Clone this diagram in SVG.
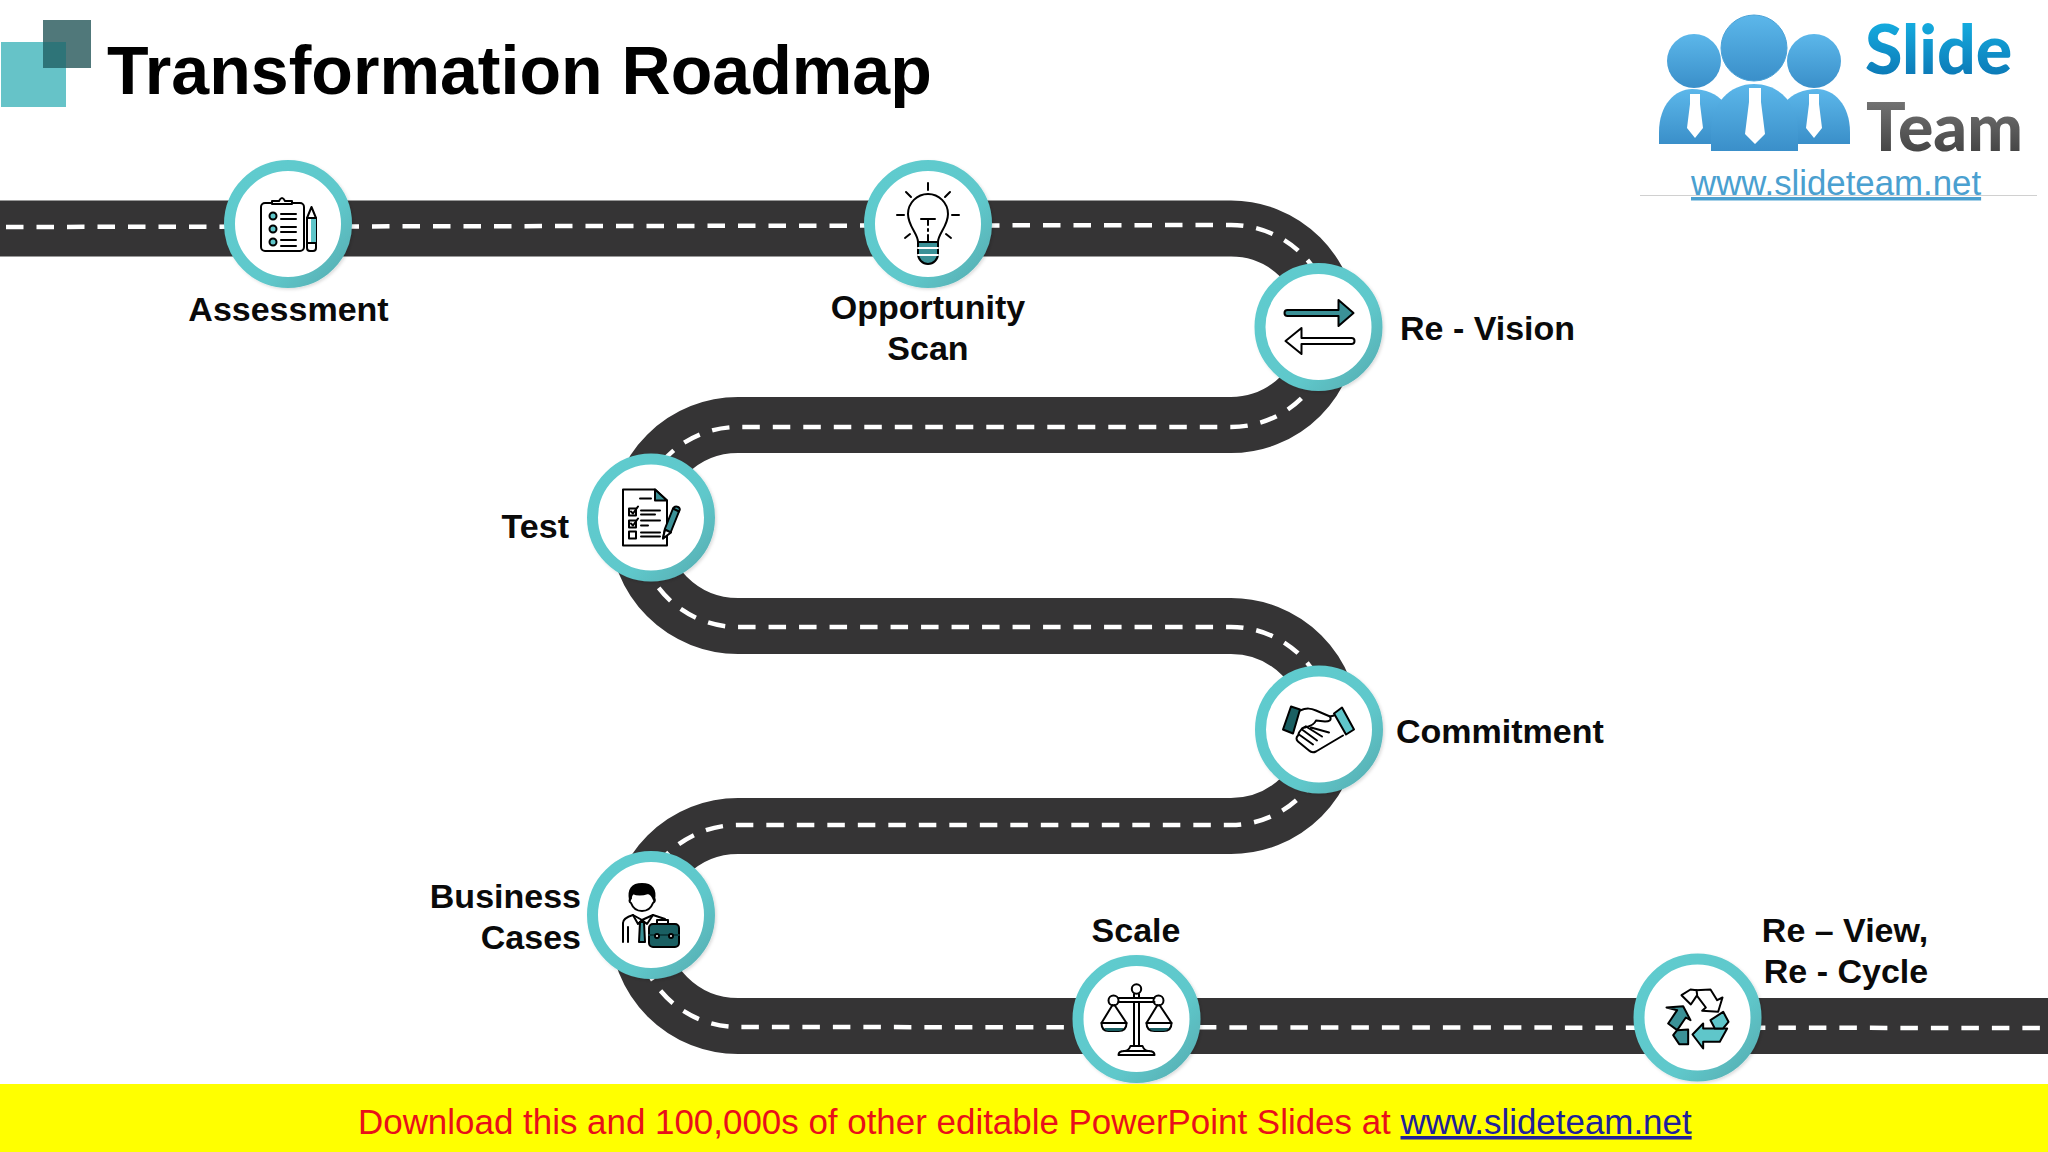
<svg xmlns="http://www.w3.org/2000/svg" width="2048" height="1152" viewBox="0 0 2048 1152">
<defs>
<linearGradient id="ringG" x1="0.1" y1="0.1" x2="0.95" y2="0.9"><stop offset="0" stop-color="#5fcbce"/><stop offset="0.65" stop-color="#5fc8cb"/><stop offset="1" stop-color="#58b2b6"/></linearGradient>
<linearGradient id="slideG" x1="0" y1="0" x2="0" y2="1"><stop offset="0" stop-color="#17b9ea"/><stop offset="1" stop-color="#0a6fae"/></linearGradient>
<linearGradient id="teamG" x1="0" y1="0" x2="0" y2="1"><stop offset="0" stop-color="#808080"/><stop offset="1" stop-color="#3a3a3a"/></linearGradient>
<linearGradient id="personG" x1="0" y1="0" x2="0" y2="1"><stop offset="0" stop-color="#5cb7ea"/><stop offset="1" stop-color="#3a8fc9"/></linearGradient>
<filter id="sh" x="-20%" y="-20%" width="140%" height="140%"><feDropShadow dx="1.5" dy="1.5" stdDeviation="1.5" flood-color="#000" flood-opacity="0.14"/></filter>
<g id="ring"><circle r="58.5" fill="#fff" stroke="url(#ringG)" stroke-width="11" filter="url(#sh)"/></g>
</defs>
<style>
text{font-family:"Liberation Sans",Arial,sans-serif}
.lb{font-size:34px;font-weight:700;fill:#0a0a0a}
.ic{fill:none;stroke:#000;stroke-width:2;stroke-linecap:round;stroke-linejoin:round}
.w{fill:#fff}
.t1{fill:#3b9197}
.t2{fill:#5fc6ca}
.t3{fill:#1a5f62}
.k{fill:#000}
</style>
<rect width="2048" height="1152" fill="#fff"/>

<g id="title">
<rect x="1" y="42" width="65" height="65" fill="#66c3c8"/>
<rect x="43" y="20" width="48" height="48" fill="#50787a"/>
<rect x="43" y="42" width="23" height="26" fill="#2e7478"/>
<text x="107" y="94" font-size="68.100" font-weight="700" fill="#000">Transformation Roadmap</text>
</g>

<g id="logo">
<circle cx="1694" cy="61" r="27" fill="url(#personG)"/>
<circle cx="1814" cy="61" r="27" fill="url(#personG)"/>
<path d="M1659 144 V132 C1659 105 1675 89 1692 89 C1706 89 1716 94 1724 102 L1724 144 Z" fill="url(#personG)"/>
<path d="M1850 144 V132 C1850 105 1834 89 1817 89 C1803 89 1793 94 1785 102 L1785 144 Z" fill="url(#personG)"/>
<circle cx="1754" cy="48" r="33" fill="url(#personG)" stroke="#4ba3d8" stroke-width="1"/>
<path d="M1711 151 V132 C1711 103 1730 84 1754 84 C1779 84 1798 103 1798 132 V151 Z" fill="url(#personG)"/>
<path d="M1690 94 H1700 V104 L1703 128 L1695 138 L1687 128 L1690 104 Z" fill="#fff"/>
<path d="M1749 88 H1761 V102 L1765 134 L1755 144 L1745 134 L1749 102 Z" fill="#fff"/>
<path d="M1809 94 H1819 V104 L1822 128 L1814 138 L1806 128 L1809 104 Z" fill="#fff"/>
<text x="1865" y="74" font-size="68" font-weight="900" fill="url(#slideG)" style="font-family:Lato,sans-serif">Slide</text>
<text x="1866" y="151" font-size="66" font-weight="900" fill="url(#teamG)" style="font-family:Lato,sans-serif">Team</text>
<line x1="1640" y1="195.5" x2="2037" y2="195.5" stroke="#d0d0d0" stroke-width="1"/>
<text x="1691" y="195" font-size="34.800" fill="#4aa0d0" text-decoration="underline">www.slideteam.net</text>
</g>

<g id="connectors">
<path d="M0 228.5 H1231 A98 98 0 0 1 1231 425 H738 A100.500 100.500 0 0 0 738 626 H1231 A100 100 0 0 1 1231 826 H738 A100 100 0 0 0 738 1026 H2048" fill="none" stroke="#353435" stroke-width="56"/>
<path d="M6 227 L1231 225 A101 101 0 0 1 1231 427 H738 A100 100 0 0 0 738 627 H1231 A99 99 0 0 1 1231 825 H738 A101 101 0 0 0 738 1027 L2048 1028" fill="none" stroke="#fff" stroke-width="4.500" stroke-dasharray="17.500 13"/>
</g>

<g id="n-assessment">
<use href="#ring" x="288" y="224"/>
<g transform="translate(288 224)" class="ic">
<rect x="-27" y="-21" width="43" height="48" rx="4" class="w"/>
<path d="M-16 -20 V-23 H-9 Q-6 -29 -3 -23 H4 V-20 Z" class="w"/>
<circle cx="-15" cy="-8" r="3.5" class="t2"/><circle cx="-15" cy="5" r="3.5" class="t2"/><circle cx="-15" cy="18" r="3.5" class="t2"/>
<path d="M-7 -10 H8 M-7 -5 H8 M-7 3 H8 M-7 8 H8 M-7 16 H8 M-7 22 H8"/>
<path d="M19 -6 L23.500 -17 L28 -6 V24 Q28 27 25 27 H22 Q19 27 19 24 Z" class="w"/>
<rect x="23" y="-6" width="5" height="25" class="t2" stroke="none"/>
<path d="M19 -6 H28 M19 19 H28"/>
</g>
<text class="lb" x="288.500" y="321" text-anchor="middle">Assessment</text>
</g>

<g id="n-opportunity">
<use href="#ring" x="928" y="224"/>
<g transform="translate(928 224)" class="ic">
<path d="M-10 18 C-10 10 -20 2 -20 -10 A20 20 0 1 1 20 -10 C20 2 10 10 10 18"/>
<path d="M-10 18 H10 V30 A10 10 0 0 1 -10 30 Z" class="t1"/>
<path d="M-10 24 H10 M-10 31 H10" stroke="#fff"/>
<path d="M0 -41 V-34 M-22 -32 L-17 -27 M22 -32 L17 -27 M-31 -9 H-24 M31 -9 H24 M-23 14 L-18 10 M23 14 L18 10"/>
<path d="M-7 -5 H7 M0 -5 V1 M0 5 V7 M0 11 V17"/>
</g>
<text class="lb" x="928" y="319" text-anchor="middle">Opportunity</text>
<text class="lb" x="928" y="360" text-anchor="middle">Scan</text>
</g>

<g id="n-revision">
<use href="#ring" x="1318.500" y="327"/>
<g transform="translate(1318.500 327)" class="ic">
<path d="M-31 -17 H20 V-27 L35 -14 L20 -1 V-11 H-31 A3 3 0 0 1 -31 -17 Z" class="t1"/>
<path d="M33 11 H-17 V1 L-33 14 L-17 27 V17 H33 A3 3 0 0 0 33 11 Z" class="w"/>
</g>
<text class="lb" x="1400" y="340">Re - Vision</text>
</g>

<g id="n-test">
<use href="#ring" x="651" y="517.500"/>
<g transform="translate(651 517.500)" class="ic">
<path d="M-28 -28 H4 L16 -17 V28 H-28 Z" class="w"/>
<path d="M4 -28 L16 -17 H4 Z" class="t1"/>
<path d="M-11 -19 H0"/>
<rect x="-22" y="-9" width="7" height="7" class="w"/><rect x="-22" y="3" width="7" height="7" class="w"/><rect x="-22" y="14" width="7" height="7" class="w"/>
<path d="M-20 -6 L-18 -4 L-13 -11 M-20 6 L-18 8 L-13 1"/>
<path d="M-10 -7 H9 M-10 -3 H4 M-10 3 H9 M-10 8 H-3 M-10 15 H9 M-10 19 H9"/>
<path d="M12 21 L14 11 L22 -9 Q24 -12 27 -10.500 Q30 -9 28 -6 L20 14 Z" class="t1"/>
<path d="M22 -9 L28 -6" />
<path d="M12 21 L14 12 L20 15 Z" class="w"/>
</g>
<text class="lb" x="569" y="538" text-anchor="end">Test</text>
</g>

<g id="n-commitment">
<use href="#ring" x="1319" y="729.500"/>
<g transform="translate(1319 729.500)" class="ic">
<path d="M-28 -23 L-19 -20 L-26 4 L-36 0 Z" class="t3"/>
<path d="M23 -22 L35 0 L27 5 L15 -16 Z" class="t2"/>
<path d="M-19 -19 C-12 -22 -8 -21 -3 -19 L11 -13 C13 -9 10 -8 6 -8 L-3 -9 C-5 -4 -10 -3 -14 -2"/>
<path d="M15 -14 L11 -13 M24 6 L-3 22 Q-7 24 -10 21 L-21 12 Q-24 9 -21 6 L-20 3 L-17 -1 L-13 -3"/>
<path d="M-20 5 L-6 15 M-17 0 L-2 11 M-13 -3 L3 7 M-8 -2 L10 3"/>
</g>
<text class="lb" x="1396" y="743">Commitment</text>
</g>

<g id="n-business">
<use href="#ring" x="651" y="915"/>
<g transform="translate(651 915)" class="ic">
<path d="M-21 -15 Q-24 -31 -9 -31 Q6 -31 3 -15 Q1 -21 -3 -22 Q-12 -19 -18 -22 Q-20 -20 -21 -15 Z" class="k"/>
<path d="M-20 -17 Q-23 -14 -20 -12 Q-17 -4 -9 -4 Q-1 -4 2 -12 Q5 -14 3 -17"/>
<path d="M-28 27 V8 Q-28 3 -18 0 L-9 5 L2 0 Q8 2 14 4 M-23 12 V27"/>
<path d="M-18 0 L-13 9 L-9 5 L-4 9 L2 0"/>
<path d="M-11 7 H-7 L-6 27 H-12 Z" class="t1"/>
<path d="M6 9 V5 H17 V9"/>
<rect x="-2" y="9" width="30" height="23" rx="4" class="t3"/>
<path d="M-2 20 H28" stroke="#0b3b3d"/>
<circle cx="6" cy="21" r="2" class="w"/><circle cx="20" cy="21" r="2" class="w"/>
</g>
<text class="lb" x="581" y="908" text-anchor="end">Business</text>
<text class="lb" x="581" y="949" text-anchor="end">Cases</text>
</g>

<g id="n-scale">
<use href="#ring" x="1136.500" y="1019"/>
<g transform="translate(1136.500 1019)" class="ic">
<circle cx="0" cy="-30" r="4.700"/>
<path d="M-18 -21 H18 M-18 -17 H18"/>
<path d="M-2.500 -25 V-21 M2.500 -25 V-21 M-2.500 -17 V26 M2.500 -17 V26"/>
<circle cx="-23" cy="-18.500" r="5"/><circle cx="22" cy="-18.500" r="5"/>
<path d="M-24 -14 L-35 4 M-22 -14 L-10 4 M21 -14 L10 4 M23 -14 L35 4"/>
<path d="M-35 4 H-10 Q-10 12 -18 12 H-28 Q-35 12 -35 4 Z" class="w"/>
<path d="M-32 9 H-13 Q-14 12 -18 12 H-28 Q-31 12 -32 9 Z" class="t3" stroke="none"/>
<path d="M10 4 H35 Q35 12 27 12 H18 Q10 12 10 4 Z" class="w"/>
<path d="M13 9 H32 Q31 12 27 12 H18 Q14 12 13 9 Z" class="t3" stroke="none"/>
<path d="M-6 27 H6 Q8 32 12 32 Q18 32 18 36 H-18 Q-18 32 -12 32 Q-8 32 -6 27 Z M-13 32 H13"/>
</g>
<text class="lb" x="1136" y="942" text-anchor="middle">Scale</text>
</g>

<g id="n-recycle">
<use href="#ring" x="1697.500" y="1017.500"/>
<g transform="translate(1697.500 1017.500) scale(0.3333) translate(-233 -232)" class="ic" style="stroke-width:6">
<path d="M228 150 L272 148 L292 180 L308 172 L295 215 L247 212 L258 202 L230 165 Z" class="w"/>
<path d="M185 165 L212 148 L230 150 L232 165 L213 193 Z" class="w"/>
<path d="M140 202 L190 198 L212 240 L198 232 L172 270 L145 250 L172 210 Z" class="t1"/>
<path d="M172 270 L205 268 V312 H178 L160 285 Z" class="t1"/>
<path d="M218 283 L250 250 V265 H322 L300 305 H250 V325 Z" class="t2"/>
<path d="M272 240 L310 215 L326 245 L310 265 H285 Z" class="t2"/>
</g>
<text class="lb" x="1845" y="942" text-anchor="middle">Re – View,</text>
<text class="lb" x="1846" y="983" text-anchor="middle">Re - Cycle</text>
</g>

<g id="footer">
<rect x="0" y="1084" width="2048" height="68" fill="#ffff00"/>
<text x="358" y="1134" font-size="34.930" fill="#e8101a">Download this and 100,000s of other editable PowerPoint Slides at <tspan fill="#20209a" text-decoration="underline">www.slideteam.net</tspan></text>
</g>
</svg>
